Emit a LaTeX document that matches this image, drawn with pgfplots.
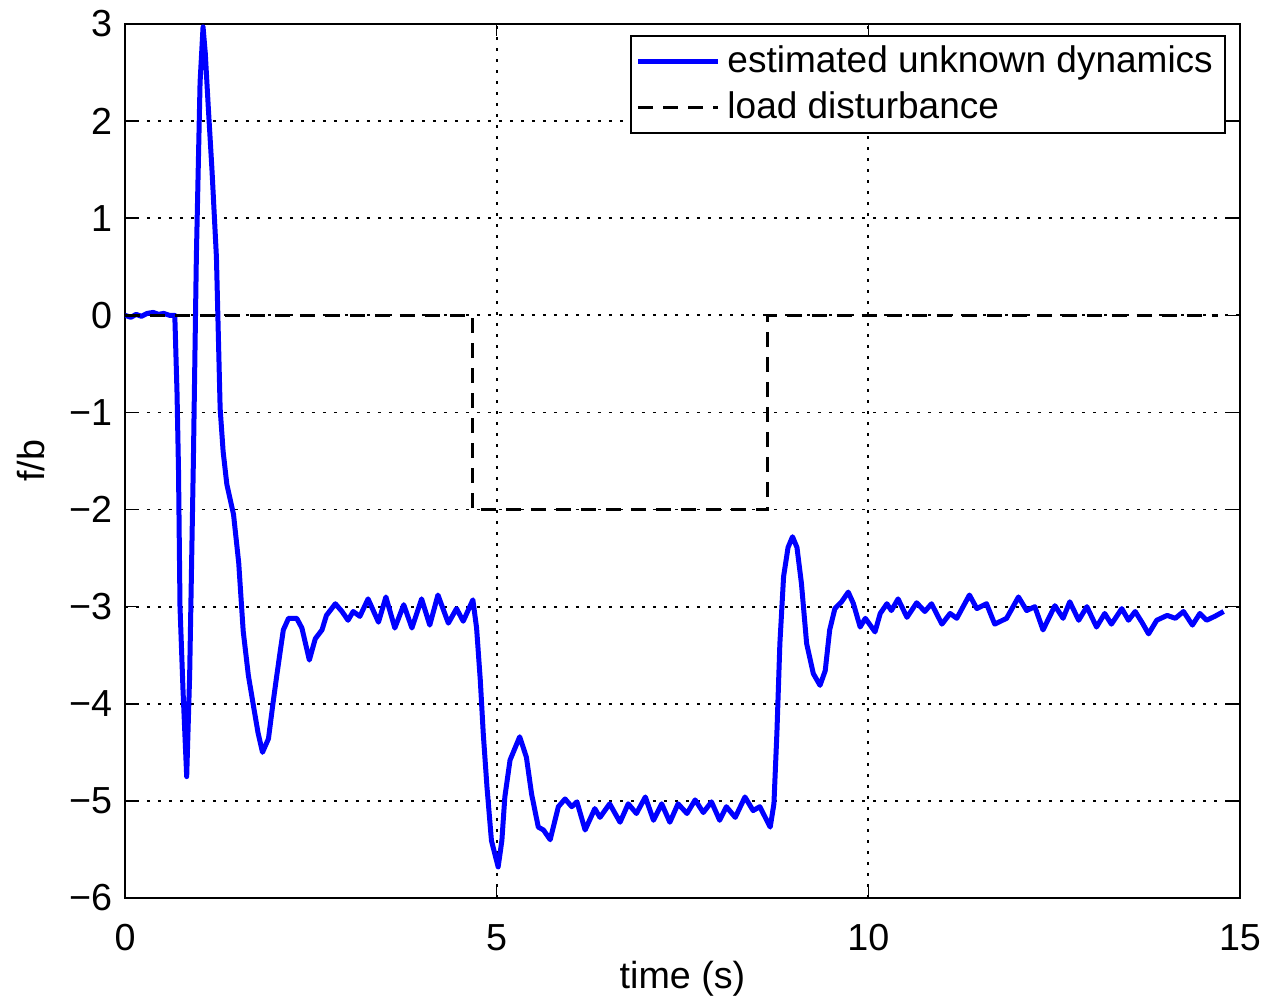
\documentclass[border=0pt]{standalone}
\usepackage{fontspec}
\setmainfont{Liberation Sans}
\usepackage{pgfplots}
\pgfplotsset{compat=1.18}
\begin{document}
\fontsize{11.1}{13.3}\selectfont
\begin{tikzpicture}
\useasboundingbox (-37.5pt,-31.8pt) rectangle (342.9pt,269.4pt);
\begin{axis}[
 at={(0,0)}, anchor=south west,
 scale only axis, width=334.5pt, height=262.2pt,
 xmin=0, xmax=15, ymin=-6, ymax=3,
 xtick={0,5,10,15}, xticklabels={0,5,10,15},
 ytick={-6,-5,-4,-3,-2,-1,0,1,2,3},
 yticklabels={−6,−5,−4,−3,−2,−1,0,1,2,3},
 tick align=inside, major tick length=3.6pt,
 tick style={black, line width=0.5pt},
 axis line style={black, line width=0.6pt},
 grid=major,
 major grid style={black, line width=0.55pt, dash pattern=on 0.8pt off 2.5pt},
 xticklabel style={yshift=-4pt, font=\fontsize{11.3}{13.3}\selectfont},
 yticklabel style={font=\fontsize{11.3}{13.3}\selectfont},
 xlabel={time (s)}, ylabel={f/b},
 label style={font=\fontsize{11.3}{13.3}\selectfont},
 xlabel style={at={(axis description cs:0.5,-0.092)}, anchor=center},
 ylabel style={at={(axis description cs:-0.084,0.5)}, anchor=center},
 legend style={at={(0.987,0.987)}, anchor=north east, draw=black, line width=0.6pt,
   inner xsep=1.5pt, inner ysep=0.8pt, nodes={inner sep=2pt},
   font=\fontsize{11.1}{13.3}\selectfont, cells={anchor=west}},
 legend image code/.code={\draw[#1] (-2pt,0pt) -- (22pt,0pt);},
]
\addplot[draw={rgb,255:red,0;green,0;blue,255}, line width=1.5pt, line join=round] coordinates {
(0,0) (0.08,-0.02) (0.15,0.01) (0.22,-0.01) (0.3,0.02) (0.38,0.03) (0.45,0.01)
(0.52,0.02) (0.6,0.0) (0.67,0.0) (0.70,-0.8) (0.72,-1.6) (0.74,-3.0) (0.78,-3.85)
(0.83,-4.75) (0.87,-3.7) (0.92,-1.5) (0.96,0.6) (1.01,2.4) (1.05,2.97) (1.08,2.7)
(1.12,2.15) (1.17,1.5) (1.23,0.6) (1.28,-0.96) (1.32,-1.4) (1.37,-1.74) (1.46,-2.05)
(1.53,-2.55) (1.59,-3.25) (1.66,-3.71) (1.73,-4.03) (1.79,-4.3) (1.85,-4.5)
(1.93,-4.36) (1.99,-4.0) (2.04,-3.72) (2.09,-3.45) (2.13,-3.24) (2.20,-3.12)
(2.31,-3.12) (2.38,-3.22) (2.48,-3.55) (2.56,-3.33) (2.65,-3.24) (2.71,-3.09)
(2.83,-2.97) (2.92,-3.05) (3.00,-3.14) (3.07,-3.05) (3.16,-3.10) (3.27,-2.92)
(3.41,-3.16) (3.51,-2.90) (3.63,-3.22) (3.75,-2.98) (3.86,-3.22) (3.99,-2.92)
(4.10,-3.19) (4.21,-2.88) (4.35,-3.17) (4.46,-3.02) (4.55,-3.15) (4.68,-2.93)
(4.73,-3.22) (4.78,-3.76) (4.82,-4.31) (4.87,-4.86) (4.93,-5.41) (5.02,-5.68)
(5.07,-5.41) (5.11,-4.96) (5.18,-4.58) (5.31,-4.34) (5.40,-4.55) (5.47,-4.93)
(5.56,-5.27) (5.63,-5.30) (5.72,-5.40) (5.83,-5.06) (5.92,-4.98) (6.01,-5.06)
(6.08,-5.01) (6.19,-5.30) (6.32,-5.08) (6.39,-5.17) (6.52,-5.03) (6.66,-5.22)
(6.77,-5.03) (6.88,-5.13) (7.00,-4.96) (7.11,-5.20) (7.22,-5.03) (7.33,-5.22)
(7.44,-5.03) (7.56,-5.13) (7.67,-4.99) (7.78,-5.12) (7.89,-5.01) (8.00,-5.20)
(8.09,-5.06) (8.21,-5.17) (8.34,-4.96) (8.45,-5.10) (8.54,-5.06) (8.68,-5.27)
(8.73,-5.03) (8.77,-4.3) (8.81,-3.38) (8.86,-2.69) (8.92,-2.39) (8.98,-2.28)
(9.04,-2.39) (9.10,-2.76) (9.17,-3.38) (9.26,-3.69) (9.35,-3.81) (9.42,-3.66)
(9.48,-3.24) (9.55,-3.02) (9.64,-2.95) (9.73,-2.85) (9.80,-2.97) (9.89,-3.21)
(9.96,-3.12) (10.09,-3.26) (10.16,-3.07) (10.25,-2.97) (10.31,-3.04) (10.40,-2.92)
(10.52,-3.11) (10.65,-2.96) (10.76,-3.05) (10.85,-2.97) (10.99,-3.18) (11.10,-3.07)
(11.19,-3.12) (11.36,-2.88) (11.46,-3.02) (11.59,-2.97) (11.70,-3.18) (11.86,-3.12)
(12.02,-2.90) (12.13,-3.04) (12.24,-3.00) (12.35,-3.24) (12.51,-2.99) (12.62,-3.12)
(12.71,-2.95) (12.83,-3.14) (12.94,-3.00) (13.07,-3.21) (13.18,-3.07) (13.27,-3.18)
(13.41,-3.02) (13.50,-3.14) (13.59,-3.05) (13.68,-3.16) (13.77,-3.28) (13.88,-3.14)
(14.02,-3.09) (14.13,-3.12) (14.24,-3.05) (14.36,-3.19) (14.46,-3.07) (14.55,-3.14)
(14.66,-3.10) (14.78,-3.05)
};
\addlegendentry{estimated unknown dynamics}
\addplot[draw=black, line width=0.9pt, dash pattern=on 4.5pt off 3pt] coordinates {
(0,0) (4.67,0) (4.67,-2) (8.65,-2) (8.65,0) (14.7,0)
};
\addlegendentry{load disturbance}
\end{axis}
\end{tikzpicture}
\end{document}
